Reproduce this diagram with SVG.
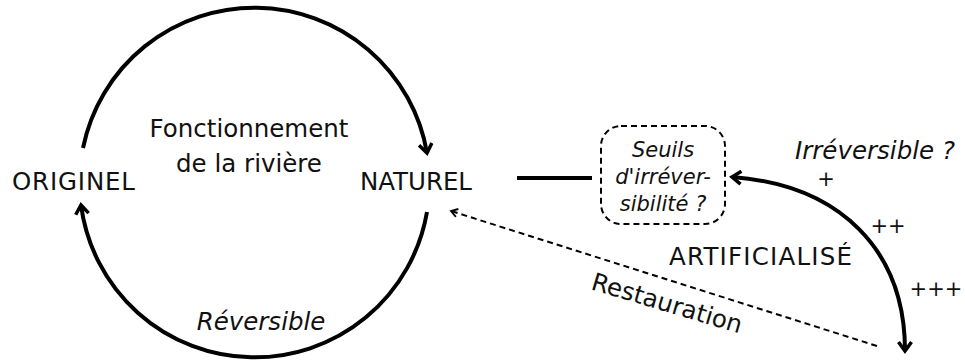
<svg xmlns="http://www.w3.org/2000/svg" width="965" height="362" viewBox="0 0 965 362">
<defs>
<style>
text{font-family:"DejaVu Sans","Liberation Sans",sans-serif;fill:#111;}
.lbl{font-size:24.5px;}
.it{font-style:italic;}
.pl{font-size:21px;}
.thick{fill:none;stroke:#000;stroke-width:4;}
.dash{fill:none;stroke:#000;stroke-width:2;stroke-dasharray:6 4;}
</style>
<marker id="ah" viewBox="0 0 16 16" refX="13" refY="8" markerWidth="16" markerHeight="16" markerUnits="userSpaceOnUse" orient="auto-start-reverse">
<path d="M4 1.5 L13 8 L4 14.5" fill="none" stroke="#000" stroke-width="3.5"/>
</marker>
<marker id="ahs" viewBox="0 0 12 12" refX="10" refY="6" markerWidth="11" markerHeight="11" markerUnits="userSpaceOnUse" orient="auto">
<path d="M3 1.5 L10 6 L3 10.5" fill="none" stroke="#000" stroke-width="2"/>
</marker>
</defs>
<g id="connectors">
<path class="thick" d="M83 148 A175 175 0 0 1 427 153" marker-end="url(#ah)"/>
<path class="thick" d="M427 212 A175 175 0 0 1 81 205" marker-end="url(#ah)"/>
<path class="thick" d="M517 178 L592 178"/>
<path class="thick" d="M905 351 C905 250 840 185 732 177" marker-start="url(#ah)" marker-end="url(#ah)"/>
<path class="dash" d="M877 346 L451 211" marker-end="url(#ahs)"/>
</g>
<g id="originel"><text class="lbl" x="12" y="190" textLength="123">ORIGINEL</text></g>
<g id="naturel"><text class="lbl" x="360" y="190" textLength="112">NATUREL</text></g>
<g id="fonctionnement"><text class="lbl" x="249" y="137" text-anchor="middle">Fonctionnement</text><text class="lbl" x="249" y="172" text-anchor="middle">de la rivière</text></g>
<g id="reversible"><text class="lbl it" x="261" y="330" text-anchor="middle">Réversible</text></g>
<g id="seuils">
<rect x="601" y="126" width="124" height="98" rx="20" ry="20" class="dash" stroke-dasharray="4 3"/>
<text class="it" font-size="21" x="663" y="157" text-anchor="middle">Seuils</text>
<text class="it" font-size="21" x="663" y="184" text-anchor="middle">d'irréver-</text>
<text class="it" font-size="21" x="663" y="211" text-anchor="middle">sibilité ?</text>
</g>
<g id="artificialise"><text class="lbl" x="669" y="265" textLength="183">ARTIFICIALISÉ</text></g>
<g id="irreversible"><text class="lbl it" x="795" y="159">Irréversible ?</text></g>
<g id="plus"><text class="pl" x="826" y="186" text-anchor="middle">+</text><text class="pl" x="888" y="233" text-anchor="middle">++</text><text class="pl" x="936" y="296" text-anchor="middle">+++</text></g>
<g id="restauration"><text class="lbl" transform="translate(590 289) rotate(16.6)">Restauration</text></g>
</svg>
